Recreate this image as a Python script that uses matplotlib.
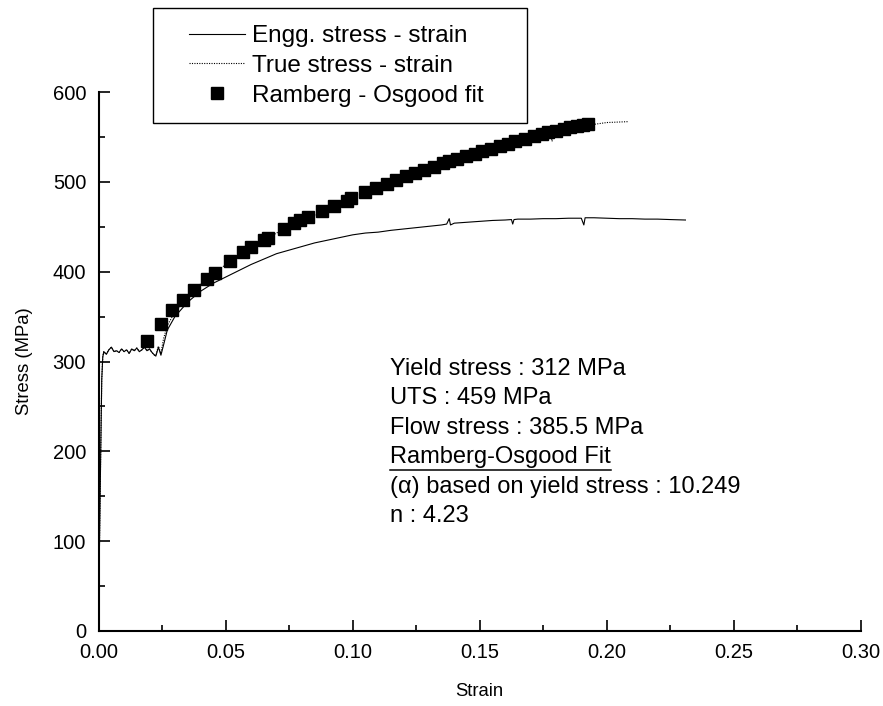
import matplotlib
matplotlib.use("Agg")
import matplotlib.pyplot as plt
from matplotlib.lines import Line2D
from matplotlib.patches import Rectangle
from matplotlib.ticker import MultipleLocator, FormatStrFormatter

plt.rcParams['font.family'] = ['Liberation Sans', 'DejaVu Sans']

# Engineering stress-strain curve
engg_strain = [0.0003, 0.0008, 0.0012, 0.0016, 0.0020, 0.0030, 0.0040, 0.0050, 0.0060, 0.0070,
               0.0080, 0.0090, 0.0100, 0.0110, 0.0120, 0.0130, 0.0140, 0.0150, 0.0160, 0.0170,
               0.0180, 0.0190, 0.0200, 0.0210, 0.0220, 0.0225, 0.0235, 0.0245, 0.0255, 0.0270,
               0.0300, 0.0350, 0.0400, 0.0450, 0.0500, 0.0550, 0.0600, 0.0650, 0.0700, 0.0750,
               0.0800, 0.0850, 0.0900, 0.0950, 0.1000, 0.1050, 0.1100, 0.1150, 0.1200, 0.1250,
               0.1300, 0.1350, 0.1370, 0.1380, 0.1385, 0.1400, 0.1450, 0.1500, 0.1550, 0.1600,
               0.1625, 0.1630, 0.1635, 0.1650, 0.1700, 0.1750, 0.1800, 0.1850, 0.1900, 0.1910,
               0.1915, 0.1950, 0.2000, 0.2050, 0.2100, 0.2150, 0.2200, 0.2250, 0.2310]
engg_stress = [95, 200, 280, 305, 311, 308, 313, 316, 311, 312,
               310, 314, 311, 313, 309, 314, 312, 315, 311, 313,
               316, 312, 314, 310, 307, 306, 316, 307, 318, 335,
               350, 366, 378, 387, 394, 401, 408, 414, 420, 424,
               428, 432, 435, 438, 441, 443, 444, 446, 447.5, 449,
               450.5, 452, 453, 459, 452, 454, 455, 456, 457, 457.5,
               458, 453, 458, 458.5, 458.5, 459, 459, 459.5, 459.5, 452,
               460, 460, 459.5, 459, 459, 458.5, 458.5, 458, 457.5]

# True stress-strain curve
true_strain = [0.0003, 0.0008, 0.0012, 0.0016, 0.0020, 0.0030, 0.0040, 0.0050, 0.0060, 0.0070,
               0.0080, 0.0090, 0.0100, 0.0110, 0.0120, 0.0130, 0.0140, 0.0150, 0.0160, 0.0170,
               0.0180, 0.0190, 0.0200, 0.0210, 0.0220, 0.0225, 0.0235, 0.0245, 0.0255, 0.0270,
               0.0300, 0.0350, 0.0400, 0.0450, 0.0500, 0.0550, 0.0600, 0.0650, 0.0700, 0.0750,
               0.0800, 0.0850, 0.0900, 0.0950, 0.1000, 0.1050, 0.1100, 0.1150, 0.1200, 0.1250,
               0.1300, 0.1350, 0.1400, 0.1450, 0.1500, 0.1550, 0.1600, 0.1650, 0.1700, 0.1750,
               0.1780, 0.1785, 0.1790, 0.1850, 0.1900, 0.1950, 0.2000, 0.2085]
true_stress = [95, 200, 280, 305, 311, 308, 313, 316, 311, 312,
               310, 314, 311, 313, 309, 314, 312, 315, 311, 313,
               316, 312, 314, 310, 307, 307, 317, 309, 325, 340,
               355, 372, 386, 397, 408, 418, 426, 435, 443, 450,
               457, 463, 470, 476, 482, 488, 493, 499, 505, 511,
               516, 521, 525, 529, 533, 537, 541, 545, 549, 553,
               554, 545, 555, 559, 562, 564, 566, 567]

# Ramberg-Osgood fit points
ro_strain = [0.0191, 0.0244, 0.0290, 0.0333, 0.0375, 0.0425, 0.0459, 0.0517, 0.0567, 0.0601,
             0.0651, 0.0665, 0.0730, 0.0769, 0.0793, 0.0825, 0.0880, 0.0926, 0.0976, 0.0995,
             0.1050, 0.1090, 0.1134, 0.1170, 0.1210, 0.1245, 0.1280, 0.1320, 0.1355, 0.1380,
             0.1410, 0.1445, 0.1480, 0.1510, 0.1545, 0.1580, 0.1610, 0.1640, 0.1680, 0.1715,
             0.1745, 0.1770, 0.1800, 0.1830, 0.1855, 0.1885, 0.1905, 0.1926]
ro_stress = [323, 341.5, 357.5, 368.5, 380, 392, 398.5, 411.5, 421.5, 427,
             435.5, 437.5, 447.5, 454, 458, 461, 467, 473.5, 479, 481.5,
             488.5, 493, 498, 502, 506, 510, 513.5, 517, 520.5, 523,
             525.5, 528.5, 531.5, 534, 537, 540, 542.5, 545, 548, 550.5,
             553, 555, 557, 559, 560.5, 562.5, 563.5, 564]

series_labels = ["Engg. stress - strain", "True stress - strain", "Ramberg - Osgood fit"]

notes = ["Yield stress : 312 MPa", "UTS : 459 MPa", "Flow stress : 385.5 MPa",
         "Ramberg-Osgood Fit", "(\u03b1) based on yield stress : 10.249", "n : 4.23"]

W, H = 883, 706
fig = plt.figure(figsize=(W / 100, H / 100), dpi=100)
ax = fig.add_axes([98.7 / W, 1 - 631 / H, 762 / W, 539 / H])

ax.plot(engg_strain, engg_stress, color='black', lw=0.8, zorder=2)
ax.plot(true_strain, true_stress, color='black', lw=0.8, ls=(0, (1, 1.2)), zorder=2)
ax.plot(ro_strain, ro_stress, ls='none', marker='s', ms=8.6, color='black', zorder=3)

ax.set_xlim(0, 0.30)
ax.set_ylim(0, 600)
ax.xaxis.set_major_locator(MultipleLocator(0.05))
ax.xaxis.set_minor_locator(MultipleLocator(0.025))
ax.xaxis.set_major_formatter(FormatStrFormatter('%.2f'))
ax.yaxis.set_major_locator(MultipleLocator(100))
ax.yaxis.set_minor_locator(MultipleLocator(50))

for side in ('top', 'right'):
    ax.spines[side].set_visible(False)
for side in ('left', 'bottom'):
    ax.spines[side].set_linewidth(1.5)

ax.tick_params(which='major', direction='in', length=8, width=1.2, labelsize=14.5, pad=9)
ax.tick_params(which='minor', direction='in', length=4, width=1.2)

ax.set_xlabel("Strain", fontsize=13.3, labelpad=15)
ax.set_ylabel("Stress (MPa)", fontsize=13.3, labelpad=14)

# Legend with a separate frame box
handles = [Line2D([], [], color='black', lw=0.8),
           Line2D([], [], color='black', lw=0.8, ls=(0, (1, 1.2))),
           Line2D([], [], ls='none', marker='s', ms=8.6, color='black')]
leg = fig.legend(handles, series_labels, loc='upper left',
                 bbox_to_anchor=(189 / W, 1 - 25 / H), frameon=False,
                 fontsize=17.5, handlelength=2.3, handletextpad=0.3,
                 labelspacing=0.32, borderpad=0, borderaxespad=0)
fig.patches.append(Rectangle((153 / W, 1 - 123 / H), 374 / W, 115 / H,
                             transform=fig.transFigure, fill=False,
                             edgecolor='black', lw=1.0))

# Annotation block
x0 = 390 / W
base0 = 375
step = 29.5
note_texts = []
for i, s in enumerate(notes):
    t = fig.text(x0, 1 - (base0 + i * step) / H, s, fontsize=17, va='baseline', ha='left')
    note_texts.append(t)

fig.canvas.draw()
r = fig.canvas.get_renderer()
bb = note_texts[3].get_window_extent(r)
yl = bb.y0 - 1
fig.add_artist(Line2D([bb.x0 / W, bb.x1 / W], [yl / H, yl / H], color='black', lw=1.1,
                      transform=fig.transFigure))

fig.savefig("out.png", dpi=100)
